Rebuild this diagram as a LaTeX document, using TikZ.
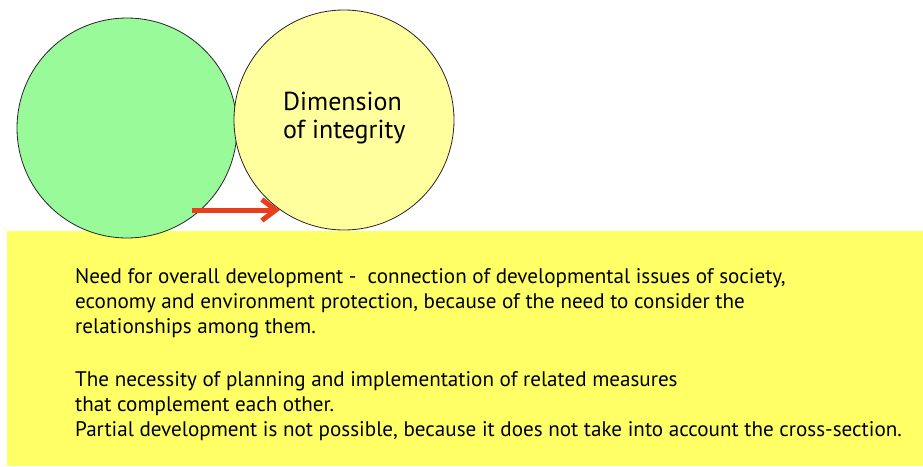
\documentclass[tikz,border=0pt]{standalone}
\usepackage{fontspec}
\setmainfont{PT Sans}
\usetikzlibrary{arrows.meta}
\definecolor{leafgreen}{RGB}{152,250,152}
\definecolor{paleyellow}{RGB}{255,255,158}
\definecolor{bandyellow}{RGB}{255,255,102}
\definecolor{arrowred}{RGB}{232,62,28}
\begin{document}
\begin{tikzpicture}[x=1pt,y=-1pt,
  ring/.style={circle,draw=black!85,line width=0.8pt,minimum size=220pt,inner sep=0pt},
  headline/.style={anchor=base west,inner sep=0pt,font=\fontsize{26}{28}\selectfont},
  bodyline/.style={anchor=base west,inner sep=0pt,font=\fontsize{21.1}{25}\selectfont},
  flow/.style={-{Straight Barb[length=14pt,width=21pt,line width=5pt]},draw=arrowred,line width=5pt}]
  \useasboundingbox (0,0) rectangle (923,466);
  % background band with the explanatory text
  \fill[bandyellow] (7,231) rectangle (923,466);
  % the two dimensions
  \node[ring,fill=leafgreen] (green) at (127,128) {};
  \node[ring,fill=paleyellow] (integrity) at (344,120) {};
  \node[headline] (head1) at (283,110) {Dimension};
  \node[headline] (head2) at (283,138) {of integrity};
  % link between them
  \coordinate (from) at (192,210);
  \coordinate (to) at (280,210);
  \draw[flow] (from) -- (to);
  % first paragraph
  \node[bodyline] (p1) at (75,283) {Need for overall development -\ \ connection of developmental issues of society,};
  \node[bodyline] (p2) at (75,308) {economy and environment protection, because of the need to consider the};
  \node[bodyline] (p3) at (75,333) {relationships among them.};
  % second paragraph
  \node[bodyline] (q1) at (75,386) {The necessity of planning and implementation of related measures};
  \node[bodyline] (q2) at (75,411) {that complement each other.};
  \node[bodyline] (q3) at (75,436) {Partial development is not possible, because it does not take into account the cross-section.};
\end{tikzpicture}
\end{document}
